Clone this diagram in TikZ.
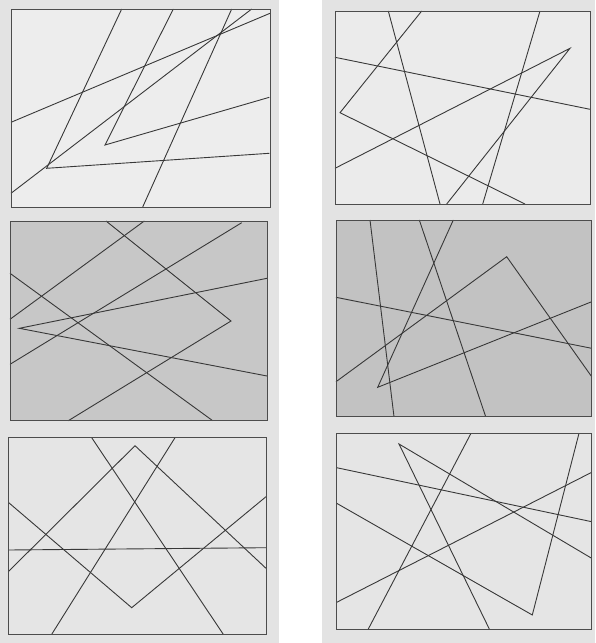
\documentclass[tikz,border=0pt]{standalone}
\begin{document}
\begin{tikzpicture}[x=1pt,y=-1pt,
  ln/.style={draw=black!78, line width=0.9pt, line join=miter},
  frame/.style={draw=black!70, line width=1pt},
  lightp/.style={fill=black!9},
  darkp/.style={fill=black!22}]
\useasboundingbox (0,0) rectangle (595,643);
\fill[white] (0,0) rectangle (595,643);
% column strips
\fill[black!11] (0,0) rectangle (279,643);
\fill[black!11] (322,0) rectangle (595,643);

% ---------- Panel 1 ----------
\fill[black!7] (11,9) rectangle (270,207);
\draw[ln] (121.7,9) -- (46.7,168.3) -- (269.3,153.3);
\draw[ln] (11,193.3) -- (251.7,9);
\draw[ln] (11,122.3) -- (270,13.3);
\draw[ln] (173.3,9) -- (105,145) -- (269.3,97.3);
\draw[ln] (231.7,9) -- (142.7,207);
\draw[frame] (11,9) rectangle (270,207);

% ---------- Panel 2 ----------
\fill[black!8] (335,11) rectangle (590,204);
\draw[ln] (388.3,11) -- (440,204);
\draw[ln] (421.7,11) -- (340,112.7) -- (525,204);
\draw[ln] (335,57.3) -- (590,109.3);
\draw[ln] (335,168.3) -- (570,48.3) -- (446.7,204);
\draw[ln] (540,11) -- (482.7,204);
\draw[frame] (335,11) rectangle (590,204);

% ---------- Panel 3 ----------
\fill[black!22] (10,221) rectangle (267,420.7);
\draw[ln] (106,221) -- (231,321) -- (68.3,420.7);
\draw[ln] (144.3,221) -- (10,319.3);
\draw[ln] (241.7,222.7) -- (10,364.3);
\draw[ln] (10,273.3) -- (212.7,420.7);
\draw[ln] (267,278.3) -- (19.3,328.3) -- (267,376);
\draw[frame] (10,221) rectangle (267,420.7);

% ---------- Panel 4 ----------
\fill[black!24] (336,220) rectangle (591.7,416.7);
\draw[ln] (370,220) -- (394,416.7);
\draw[ln] (419.3,220) -- (485.7,416.7);
\draw[ln] (453.3,220) -- (377.7,387.3) -- (591.7,301.7);
\draw[ln] (336,381.7) -- (506.7,256.7) -- (591.7,376.7);
\draw[ln] (336,297.3) -- (591.7,348.3);
\draw[frame] (336,220) rectangle (591.7,416.7);

% ---------- Panel 5 ----------
\fill[black!10] (8.3,437.7) rectangle (266,634.3);
\draw[ln] (91.7,437.7) -- (223.3,634.3);
\draw[ln] (175,437.7) -- (51.7,634.3);
\draw[ln] (8.3,571.7) -- (135,445.7) -- (266,568.3);
\draw[ln] (8.3,502.3) -- (131.7,607.7) -- (266,496.7);
\draw[ln] (8.3,550) -- (266,547.7);
\draw[frame] (8.3,437.7) rectangle (266,634.3);

% ---------- Panel 6 ----------
\fill[black!10] (336.7,433.3) rectangle (591.7,629);
\draw[ln] (471,433.3) -- (368.3,629);
\draw[ln] (489.3,629) -- (399,444) -- (591.7,558.3);
\draw[ln] (336.7,467.7) -- (591.7,521.7);
\draw[ln] (336.7,503.3) -- (532.3,615) -- (579,433.3);
\draw[ln] (336.7,602.3) -- (591.7,472.3);
\draw[frame] (336.7,433.3) rectangle (591.7,629);
\end{tikzpicture}
\end{document}
